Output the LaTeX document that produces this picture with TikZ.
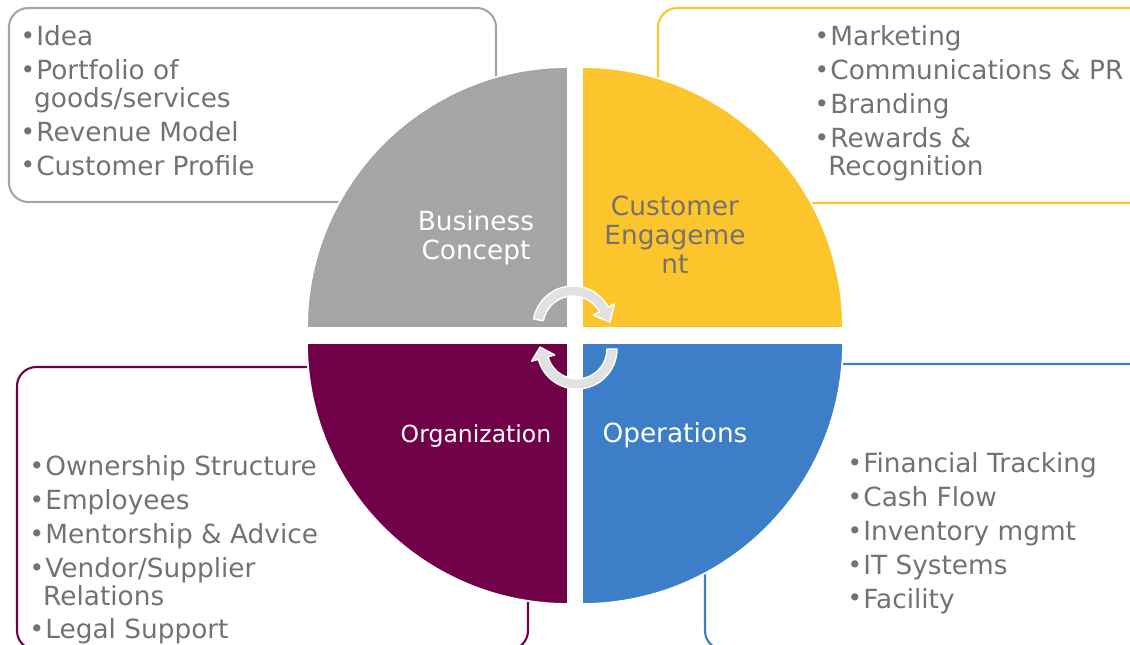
\documentclass[tikz,border=0pt]{standalone}
\usepackage{fontspec}
\setmainfont{DejaVu Sans}
\definecolor{qgray}{RGB}{165,165,165}
\definecolor{qgold}{RGB}{253,197,44}
\definecolor{qplum}{RGB}{112,0,72}
\definecolor{qblue}{RGB}{61,126,200}
\definecolor{txtgray}{RGB}{118,113,113}
\definecolor{arrowgray}{RGB}{225,225,225}
\newcommand{\bul}{\makebox[7.4pt][l]{\hspace*{-1.6pt}\raisebox{0.6pt}{\fontsize{14}{14}\selectfont •}}}
\newcommand{\cont}{\hspace*{6.2pt}}
\tikzset{
listbox/.style={rounded corners=11pt, line width=1.2pt},
itemlist/.style={anchor=north west, inner sep=0pt, align=left, text=txtgray, font=\fontsize{15}{15.9}\selectfont},
quadlabel/.style={inner sep=0pt, align=center, font=\fontsize{15}{16.4}\selectfont},
cyclearrow/.style={fill=arrowgray, draw=white, line width=0.8pt, line join=round}
}
\begin{document}
\begin{tikzpicture}[x=0.02cm, y=0.02cm]
\useasboundingbox (0,0) rectangle (1130,645);
\clip (0,0) rectangle (1130,645);
\draw[listbox, qgray] (9,443) rectangle (496,637);
\draw[listbox, qgold] (658,442) rectangle (1150,637);
\draw[listbox, qplum] (17,-5) rectangle (528,278);
\draw[listbox, qblue] (705,-5) rectangle (1150,281);
\foreach \cx/\cy/\a/\b/\col in {568/317/180/90/qgray, 582/317/90/0/qgold, 568/302/270/180/qplum, 582/302/360/270/qblue} {
\path[fill=\col, draw=white, line width=1pt] (\cx,\cy) -- ++(\a:261) arc[start angle=\a, end angle=\b, radius=261] -- cycle;
}
\begin{scope}[shift={(573,319)}]
\path[cyclearrow] (170:40) arc[start angle=170, end angle=28, radius=40] -- (28:47) -- (6:37) -- (28:23) -- (28:30) arc[start angle=28, end angle=170, radius=30] -- cycle;
\end{scope}
\begin{scope}[shift={(577,296)}]
\path[cyclearrow] (0:40) arc[start angle=0, end angle=-165, radius=40] -- (-165:47) -- (-183:37) -- (-165:23) -- (-165:30) arc[start angle=-165, end angle=0, radius=30] -- cycle;
\end{scope}
\node[quadlabel, text=white, anchor=north] (concept) at (476,435) {Business\\Concept};
\node[quadlabel, text=txtgray, anchor=north] (engage) at (675,449) {Customer\\Engageme\\nt};
\node[quadlabel, text=white, anchor=base, font=\fontsize{13.4}{15}\selectfont] (org) at (476,202) {Organization};
\node[quadlabel, text=white, anchor=base] (ops) at (675,202) {Operations};
\node[itemlist] (conceptlist) at (23,620) {\bul Idea\\[3.4pt]\bul Portfolio of\\\cont goods/services\\[3.4pt]\bul Revenue Model\\[3.4pt]\bul Customer Profile};
\node[itemlist] (engagelist) at (817,620) {\bul Marketing\\[3.4pt]\bul Communications \& PR\\[3.4pt]\bul Branding\\[3.4pt]\bul Rewards \&\\\cont Recognition};
\node[itemlist] (orglist) at (32,190) {\bul Ownership Structure\\[3.4pt]\bul Employees\\[3.4pt]\bul Mentorship \& Advice\\[3.4pt]\bul Vendor/Supplier\\\cont Relations\\[3.4pt]\bul Legal Support};
\node[itemlist] (opslist) at (850,193) {\bul Financial Tracking\\[3.4pt]\bul Cash Flow\\[3.4pt]\bul Inventory mgmt\\[3.4pt]\bul IT Systems\\[3.4pt]\bul Facility};
\end{tikzpicture}
\end{document}
